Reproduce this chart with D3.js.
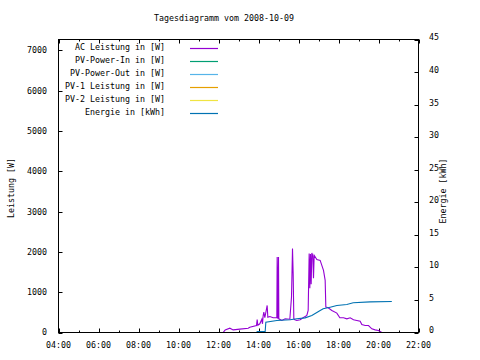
<!DOCTYPE HTML>
<html lang="de">
<head>
    <meta charset="UTF-8">
    <title>Tagesdiagramm</title>
    <script src="https://d3js.org/d3.v7.min.js"></script>
    <style>
        body { margin: 0; background: #fff; }
        svg text { font-family: "DejaVu Sans Mono", monospace; font-size: 8.3px; fill: #000; }
    </style>
</head>
<body>
<div id="chart"></div>
<script>
    // data
    const title = "Tagesdiagramm vom 2008-10-09";
    const xTicks = ["04:00", "06:00", "08:00", "10:00", "12:00", "14:00", "16:00", "18:00", "20:00", "22:00"];
    const yTicks = [0, 1000, 2000, 3000, 4000, 5000, 6000, 7000];
    const y2Ticks = [0, 5, 10, 15, 20, 25, 30, 35, 40, 45];

    const seriesNames = ["AC Leistung in [W]", "PV-Power-In in [W]", "PV-Power-Out in [W]",
                         "PV-1 Leistung in [W]", "PV-2 Leistung in [W]", "Energie in [kWh]"];
    const seriesColors = ["#9400d3", "#009e73", "#56b4e9", "#e69f00", "#f0e442", "#0072b2"];

    const acTime = ["12:14","12:20","12:34","12:44","13:04","13:29","13:34","13:54","13:56","13:58",
        "14:04","14:10","14:12","14:14","14:16","14:19","14:26","14:28","14:34","14:44",
        "14:55","14:56","14:58","15:00","15:01","15:10","15:20","15:34","15:39","15:42",
        "15:44","15:46","15:49","15:55","16:05","16:14","16:25","16:29","16:32","16:34",
        "16:36","16:38","16:40","16:43","16:45","16:47","16:55","17:05","17:10","17:15",
        "17:20","17:22","17:29","17:40","17:55","18:04","18:15","18:25","18:35","18:45",
        "18:55","19:05","19:10","19:20","19:30","19:40","19:50","20:00","20:10"];
    const acPower = [0, 65, 107, 65, 83, 107, 132, 174, 320, 180,
        216, 330, 216, 423, 505, 366, 672, 380, 398, 366,
        366, 1874, 340, 1874, 340, 299, 340, 330, 879, 2082,
        1460, 340, 317, 299, 316, 366, 423, 547, 1958, 1100,
        1950, 1200, 1973, 1900, 1350, 1916, 1809, 1791, 1667, 1543,
        1294, 630, 614, 547, 481, 366, 366, 340, 366, 316,
        299, 282, 199, 174, 174, 91, 66, 50, 0];

    const energyTime = ["11:29","13:55","13:56","14:20","14:22","14:55","15:35","15:55","16:20","16:40",
        "17:00","17:14","17:35","17:55","18:25","18:44","19:35","20:40"];
    const energyKwh = [0, 0, 0.15, 0.15, 1.58, 1.84, 1.95, 2.1, 2.25, 2.61,
        3.23, 3.64, 3.89, 4.15, 4.3, 4.56, 4.71, 4.75];

    const W = 480, H = 360;
    const plot = {left: 58.5, right: 418.5, top: 39.5, bottom: 332.5};

    const parseTime = d3.timeParse("%H:%M");

    const svg = d3.select("#chart").append("svg")
        .attr("width", W)
        .attr("height", H);

    const x = d3.scaleTime()
        .domain([parseTime(xTicks[0]), parseTime(xTicks[xTicks.length - 1])])
        .range([plot.left, plot.right]);

    // 7000 sits a bit below the top frame
    const y = d3.scaleLinear()
        .domain([0, 7000 * (plot.bottom - plot.top) / 282])
        .range([plot.bottom, plot.top]);

    const y2 = d3.scaleLinear()
        .domain([0, 45])
        .range([plot.bottom, plot.top]);

    // title
    svg.append("text")
        .attr("x", 224)
        .attr("y", 18)
        .attr("dy", "0.35em")
        .attr("text-anchor", "middle")
        .text(title);

    // x axis, major ticks every 2h, minor every hour, mirrored on top
    const minorTimes = d3.timeHour.range(x.domain()[0], d3.timeHour.offset(x.domain()[1], 1));
    const g = svg.append("g").attr("stroke", "#000").attr("stroke-width", 1);
    minorTimes.forEach((t, i) => {
        const len = i % 2 === 0 ? 4 : 2;
        const px = Math.round(x(t)) + 0.5;
        g.append("line").attr("x1", px).attr("x2", px).attr("y1", plot.bottom).attr("y2", plot.bottom - len);
        g.append("line").attr("x1", px).attr("x2", px).attr("y1", plot.top).attr("y2", plot.top + len);
    });

    svg.selectAll(".xlabel")
        .data(xTicks)
        .enter().append("text")
        .attr("class", "xlabel")
        .attr("x", d => x(parseTime(d)))
        .attr("y", 345)
        .attr("dy", "0.35em")
        .attr("text-anchor", "middle")
        .text(d => d);

    // left axis
    yTicks.forEach(v => {
        const py = Math.round(y(v)) + 0.5;
        g.append("line").attr("x1", plot.left).attr("x2", plot.left + 4).attr("y1", py).attr("y2", py);
    });
    svg.selectAll(".ylabel")
        .data(yTicks)
        .enter().append("text")
        .attr("class", "ylabel")
        .attr("x", 47)
        .attr("y", d => y(d))
        .attr("dy", "0.35em")
        .attr("text-anchor", "end")
        .text(d => d);

    // right axis
    y2Ticks.forEach(v => {
        const py = Math.round(y2(v)) + 0.5;
        g.append("line").attr("x1", plot.right).attr("x2", plot.right - 4).attr("y1", py).attr("y2", py);
    });
    svg.selectAll(".y2label")
        .data(y2Ticks)
        .enter().append("text")
        .attr("class", "y2label")
        .attr("x", 429)
        .attr("y", d => y2(d) - 2)
        .attr("dy", "0.35em")
        .attr("text-anchor", "start")
        .text(d => d);

    // axis titles
    svg.append("text")
        .attr("transform", "translate(11,188) rotate(-90)")
        .attr("text-anchor", "middle")
        .attr("dy", "0.35em")
        .text("Leistung [W]");
    svg.append("text")
        .attr("transform", "translate(443,191) rotate(-90)")
        .attr("text-anchor", "middle")
        .attr("dy", "0.35em")
        .text("Energie [kWh]");

    // data lines
    const acData = acTime.map((t, i) => ({t: parseTime(t), v: acPower[i]}));
    const energyData = energyTime.map((t, i) => ({t: parseTime(t), v: energyKwh[i]}));

    svg.append("path")
        .datum(acData)
        .attr("fill", "none")
        .attr("stroke", seriesColors[0])
        .attr("stroke-width", 1.1)
        .attr("d", d3.line().x(d => x(d.t)).y(d => y(d.v)));

    svg.append("path")
        .datum(energyData)
        .attr("fill", "none")
        .attr("stroke", seriesColors[5])
        .attr("stroke-width", 1.1)
        .attr("d", d3.line().x(d => x(d.t)).y(d => y2(d.v)));

    // frame
    svg.append("rect")
        .attr("x", plot.left)
        .attr("y", plot.top)
        .attr("width", plot.right - plot.left)
        .attr("height", plot.bottom - plot.top)
        .attr("fill", "none")
        .attr("stroke", "#000");

    // legend
    const legend = svg.selectAll(".legend")
        .data(seriesNames)
        .enter().append("g")
        .attr("class", "legend")
        .attr("transform", (d, i) => `translate(0,${47 + i * 13})`);

    legend.append("text")
        .attr("x", 165)
        .attr("dy", "0.35em")
        .attr("text-anchor", "end")
        .text(d => d);

    legend.append("line")
        .attr("x1", 190)
        .attr("x2", 218)
        .attr("y1", 1.5)
        .attr("y2", 1.5)
        .attr("stroke", d => seriesColors[seriesNames.indexOf(d)])
        .attr("stroke-width", 1.2);
</script>
</body>
</html>
